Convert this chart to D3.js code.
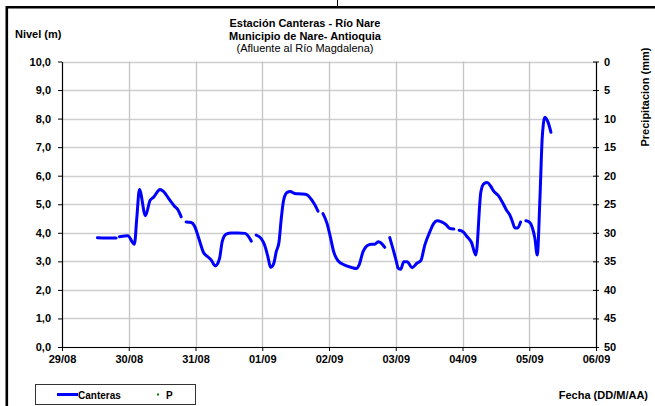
<!DOCTYPE html>
<html><head><meta charset="utf-8">
<script src="https://cdn.jsdelivr.net/npm/d3@7"></script>
<style>
html,body{margin:0;padding:0;background:#fff;}
svg{display:block;font-family:"Liberation Sans",Arial,sans-serif;}
</style></head>
<body><svg id="chart" width="655" height="406"></svg>
<script>
const fechas = ["29/08","30/08","31/08","01/09","02/09","03/09","04/09","05/09","06/09"];
const nivelTicks = [0,1,2,3,4,5,6,7,8,9,10];
const precTicks = [0,5,10,15,20,25,30,35,40,45,50];
// Days since 29/08 00:00 ; null = gap in record
const canterasDia = [
 0.53,0.66,0.81,null,
 0.86,0.985,1.085,1.12,1.16,1.25,1.32,1.37,1.47,1.52,1.61,1.685,1.735,1.785,null,
 1.86,1.935,1.985,2.05,2.12,2.185,2.235,2.295,2.36,2.40,2.46,2.535,2.635,2.745,2.785,2.835,null,
 2.91,2.985,3.035,3.085,3.125,3.17,3.21,3.25,3.285,3.32,3.37,3.42,3.485,3.585,3.66,3.725,3.785,3.835,null,
 3.91,3.97,4.02,4.07,4.135,4.235,4.335,4.41,4.45,4.51,4.57,4.635,4.685,4.735,4.77,4.835,null,
 4.91,4.97,5.01,5.035,5.075,5.12,5.17,5.245,5.32,5.375,5.435,5.51,5.57,5.62,5.685,5.75,5.81,5.87,null,
 5.95,6.01,6.07,6.135,6.20,6.275,6.32,6.37,6.42,6.47,6.535,6.60,6.66,6.71,6.75,6.785,6.825,6.87,null,
 6.95,7.01,7.05,7.085,7.12,7.16,7.195,7.235,7.285,7.325
];
const canterasNivel = [
 3.83,3.82,3.82,null,
 3.86,3.90,3.60,4.50,5.52,4.60,5.14,5.24,5.52,5.45,5.16,4.93,4.81,4.56,null,
 4.38,4.36,4.24,3.80,3.31,3.16,3.05,2.84,3.10,3.69,3.95,3.99,3.99,3.98,3.90,3.71,null,
 3.92,3.80,3.57,3.16,2.79,2.91,3.34,3.66,4.50,5.14,5.41,5.45,5.38,5.36,5.34,5.20,4.99,4.76,null,
 4.67,4.33,3.86,3.34,3.02,2.87,2.79,2.75,2.87,3.34,3.55,3.60,3.60,3.69,3.66,3.49,null,
 3.83,3.34,2.99,2.76,2.72,2.99,2.99,2.78,2.94,3.02,3.57,4.03,4.33,4.42,4.38,4.29,4.15,4.13,null,
 4.09,4.03,3.86,3.66,3.22,5.43,5.72,5.76,5.64,5.45,5.31,5.06,4.79,4.62,4.38,4.17,4.17,4.38,null,
 4.42,4.36,4.15,3.80,3.22,5.20,7.35,8.05,7.85,7.52
];
const precipitacion = []; // serie P sin datos visibles

const svg = d3.select("#chart");
const m = {left:62, right:596, top:61.5, bottom:347};
const x = d3.scaleLinear().domain([0, fechas.length-1]).range([m.left, m.right]);
const y = d3.scaleLinear().domain([0,10]).range([m.bottom, m.top]);
const y2 = d3.scaleLinear().domain([50,0]).range([m.bottom, m.top]);

// outer frame
svg.append("path").attr("d","M6.8,420V7.3H700").attr("fill","none").attr("stroke","#000").attr("stroke-width",2.6);
svg.append("line").attr("x1",337.5).attr("x2",337.5).attr("y1",0).attr("y2",6).attr("stroke","#000").attr("stroke-width",1);

// grid
const g = svg.append("g");
g.selectAll(".hg").data(nivelTicks).join("line")
 .attr("x1",m.left).attr("x2",m.right).attr("y1",d=>Math.round(y(d))+0.5).attr("y2",d=>Math.round(y(d))+0.5)
 .attr("stroke","#cfcfcf").attr("stroke-width",1.3);
g.selectAll(".vg").data(d3.range(1,fechas.length-1)).join("line")
 .attr("y1",m.top).attr("y2",m.bottom).attr("x1",d=>Math.round(x(d))+0.5).attr("x2",d=>Math.round(x(d))+0.5)
 .attr("stroke","#c4c4c4").attr("stroke-width",1.3);

const fmt = d => d3.format(".1f")(d).replace(".",",");
const styleAxis = (sel) => {
  sel.select(".domain").attr("stroke","#000").attr("stroke-width",1.2);
  sel.selectAll(".tick line").attr("stroke","#000");
  sel.selectAll("text").attr("font-family","Liberation Sans, Arial, sans-serif").attr("font-weight","bold").attr("font-size",11).attr("fill","#000");
};
svg.append("g").attr("transform",`translate(${m.left},0)`)
 .call(d3.axisLeft(y).tickValues(nivelTicks).tickFormat(fmt).tickSize(4).tickSizeOuter(0).tickPadding(7))
 .call(styleAxis);
svg.append("g").attr("transform",`translate(${m.right},0)`)
 .call(d3.axisRight(y2).tickValues(precTicks).tickSize(3).tickSizeOuter(0).tickPadding(5))
 .call(styleAxis)
 .call(s=>s.selectAll(".tick line").attr("x1",-3));
svg.append("g").attr("transform",`translate(0,${m.bottom})`)
 .call(d3.axisBottom(x).tickValues(d3.range(fechas.length)).tickFormat(i=>fechas[i]).tickSize(4).tickSizeOuter(0).tickPadding(4))
 .call(styleAxis);

// line
const pts = canterasDia.map((d,i)=>({d:d, v:canterasNivel[i]}));
const line = d3.line().defined(p=>p.d!=null && p.v!=null).x(p=>x(p.d)).y(p=>y(p.v)).curve(d3.curveMonotoneX);
svg.append("path").datum(pts).attr("d",line).attr("fill","none").attr("stroke","#0000ff")
 .attr("stroke-width",3).attr("stroke-linejoin","round").attr("stroke-linecap","round");
svg.append("g").selectAll("circle").data(precipitacion).join("circle")
 .attr("cx",p=>x(p.d)).attr("cy",p=>y2(p.v)).attr("r",1.5).attr("fill","#008000");

// titles
const t = svg.append("g").attr("font-size",11).attr("fill","#000").attr("text-anchor","middle");
t.append("text").attr("x",305).attr("y",27).attr("font-weight","bold").text("Estación Canteras - Río Nare");
t.append("text").attr("x",305).attr("y",39.5).attr("font-weight","bold").text("Municipio de Nare- Antioquia");
t.append("text").attr("x",305).attr("y",52).text("(Afluente al Río Magdalena)");
svg.append("text").attr("x",15).attr("y",38).attr("font-size",11).attr("font-weight","bold").text("Nivel (m)");
svg.append("text").attr("transform","translate(649,97) rotate(-90)").attr("text-anchor","middle")
 .attr("font-size",11).attr("font-weight","bold").text("Precipitacion (mm)");
svg.append("text").attr("x",648).attr("y",399).attr("text-anchor","end").attr("font-size",11).attr("font-weight","bold").text("Fecha (DD/M/AA)");

// legend
const lg = svg.append("g");
lg.append("rect").attr("x",35.5).attr("y",384.5).attr("width",160).attr("height",20).attr("fill","#fff").attr("stroke","#333").attr("stroke-width",1);
lg.append("line").attr("x1",57).attr("x2",78).attr("y1",394.5).attr("y2",394.5).attr("stroke","#0000ff").attr("stroke-width",3);
lg.append("text").attr("x",78).attr("y",398.5).attr("font-size",10).attr("font-weight","bold").text("Canteras");
lg.append("rect").attr("x",157).attr("y",393.5).attr("width",2).attr("height",2).attr("fill","#008000");
lg.append("text").attr("x",166).attr("y",398.5).attr("font-size",10).attr("font-weight","bold").text("P");
</script></body></html>
